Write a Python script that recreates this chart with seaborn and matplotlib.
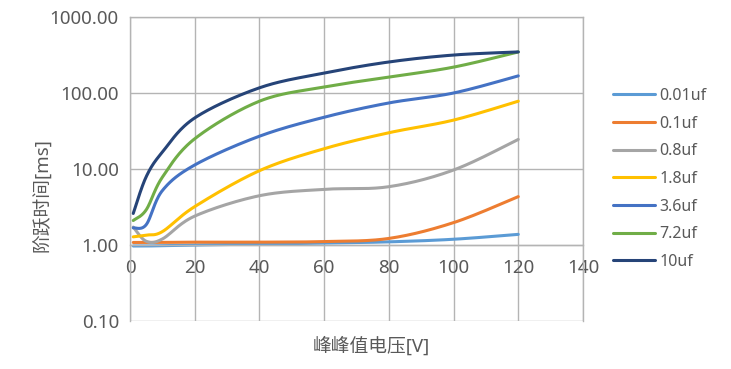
import matplotlib
matplotlib.use("Agg")
import matplotlib.pyplot as plt
import matplotlib.ticker as mticker
import numpy as np
import seaborn as sns

# values
voltage = [1, 5, 10, 20, 40, 60, 80, 100, 120]
labels = ["0.01uf", "0.1uf", "0.8uf", "1.8uf", "3.6uf", "7.2uf", "10uf"]
c_001 = [0.97, 0.97, 0.98, 1.0, 1.03, 1.06, 1.10, 1.19, 1.38]
c_01 = [1.08, 1.08, 1.08, 1.09, 1.09, 1.11, 1.22, 1.97, 4.33]
c_08 = [1.72, 1.12, 1.2, 2.4, 4.45, 5.4, 5.85, 9.7, 24.5]
c_18 = [1.28, 1.35, 1.5, 3.2, 9.5, 18.5, 30, 44, 78]
c_36 = [1.68, 1.85, 5.2, 11.3, 27, 48, 74, 100, 168]
c_72 = [2.1, 2.9, 7.8, 25, 78, 120, 162, 219, 347]
c_10 = [2.6, 7.9, 16.7, 47, 117, 183, 256, 316, 347]
series = [c_001, c_01, c_08, c_18, c_36, c_72, c_10]
colors = ["#5B9BD5", "#ED7D31", "#A5A5A5", "#FFC000", "#4472C4", "#70AD47", "#264478"]
x_ticks = [0, 20, 40, 60, 80, 100, 120, 140]
y_ticks = [0.1, 1, 10, 100, 1000]


def smooth(xs, ys, n=30):
    # excel-like smoothed line: catmull-rom in screen-ish coords (log y)
    sx = np.asarray(xs, float) * 453 / 140
    sy = np.log10(np.asarray(ys, float)) * 76
    pts = np.column_stack([sx, sy])
    pts = np.vstack([pts[0], pts, pts[-1]])
    out = []
    for i in range(1, len(pts) - 2):
        p0, p1, p2, p3 = pts[i - 1], pts[i], pts[i + 1], pts[i + 2]
        c1 = p1 + (p2 - p0) / 6
        c2 = p2 - (p3 - p1) / 6
        t = np.linspace(0, 1, n)[:, None]
        seg = (1 - t) ** 3 * p1 + 3 * (1 - t) ** 2 * t * c1 + 3 * (1 - t) * t ** 2 * c2 + t ** 3 * p2
        out.append(seg if i == 1 else seg[1:])
    out = np.vstack(out)
    return out[:, 0] * 140 / 453, 10 ** (out[:, 1] / 76)


sns.set_style("white")
plt.rcParams["font.family"] = ["Noto Sans", "Noto Sans CJK SC", "DejaVu Sans"]
text_col = "#595959"
grid_col = "#B4B4B4"

fig = plt.figure(figsize=(7.31, 3.69), dpi=100)
ax = fig.add_axes([130 / 731, 1 - 321 / 369, 453 / 731, 304 / 369])

for lab, vals, col in zip(labels, series, colors):
    xs, ys = smooth(voltage, vals)
    sns.lineplot(x=xs, y=ys, ax=ax, color=col, linewidth=2.2, label=lab,
                 sort=False, estimator=None)

ax.set_yscale("log")
ax.set_xlim(0, 140)
ax.set_ylim(0.1, 1000)
ax.set_xticks(x_ticks)
ax.set_yticks(y_ticks)
ax.yaxis.set_minor_locator(mticker.NullLocator())
ax.yaxis.set_major_formatter(mticker.FuncFormatter(lambda v, p: f"{v:.2f}"))
ax.grid(True, color=grid_col, linewidth=1)
ax.set_axisbelow(True)

for s in ax.spines.values():
    s.set_color(grid_col)
    s.set_linewidth(1)
ax.spines["bottom"].set_position(("data", 1))
ax.tick_params(axis="both", length=0, labelsize=13.5, labelcolor=text_col)
ax.tick_params(axis="x", pad=10)
ax.tick_params(axis="y", pad=8)

ax.set_xlabel("峰峰值电压[V]", fontsize=13.5, color=text_col)
ax.set_ylabel("阶跃时间[ms]", fontsize=13.5, color=text_col)
ax.xaxis.set_label_coords((371 - 130) / 453, -(336 - 321) / 304)
ax.yaxis.set_label_coords((52 - 130) / 453, (321 - 195) / 304)

ax.legend(loc="center left", bbox_to_anchor=(613 / 731, 1 - 179 / 369),
          bbox_transform=fig.transFigure, frameon=False, fontsize=11.5,
          handlelength=2.6, handletextpad=0.3, labelspacing=0.73,
          borderpad=0, borderaxespad=0, labelcolor=text_col)

fig.savefig("out.png", dpi=100)
